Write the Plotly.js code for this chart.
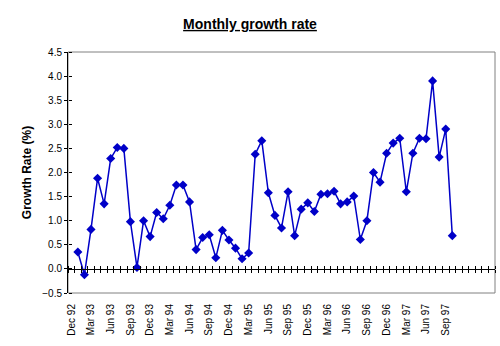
<!DOCTYPE html>
<html>
<head>
<meta charset="utf-8">
<script src="https://cdn.plot.ly/plotly-3.0.1.min.js"></script>
<style>html,body{margin:0;padding:0;background:#fff;}#chart{width:500px;height:346px;}</style>
</head>
<body>
<div id="chart"></div>
<script>
const categories = [
  "Dec 92","Jan 93","Feb 93","Mar 93","Apr 93","May 93","Jun 93","Jul 93","Aug 93","Sep 93","Oct 93","Nov 93",
  "Dec 93","Jan 94","Feb 94","Mar 94","Apr 94","May 94","Jun 94","Jul 94","Aug 94","Sep 94","Oct 94","Nov 94",
  "Dec 94","Jan 95","Feb 95","Mar 95","Apr 95","May 95","Jun 95","Jul 95","Aug 95","Sep 95","Oct 95","Nov 95",
  "Dec 95","Jan 96","Feb 96","Mar 96","Apr 96","May 96","Jun 96","Jul 96","Aug 96","Sep 96","Oct 96","Nov 96",
  "Dec 96","Jan 97","Feb 97","Mar 97","Apr 97","May 97","Jun 97","Jul 97","Aug 97","Sep 97","Oct 97","Nov 97",
  "Dec 97","Jan 98","Feb 98","Mar 98","Apr 98"
];
const growthRate = [
  null, 0.35, -0.12, 0.82, 1.88, 1.35, 2.29, 2.52, 2.50, 0.98, 0.03, 1.00,
  0.67, 1.17, 1.04, 1.32, 1.74, 1.74, 1.39, 0.40, 0.65, 0.71, 0.23, 0.80,
  0.60, 0.43, 0.21, 0.33, 2.38, 2.66, 1.58, 1.11, 0.85, 1.60, 0.69, 1.24,
  1.37, 1.19, 1.55, 1.56, 1.61, 1.35, 1.39, 1.51, 0.61, 1.00, 2.00, 1.80,
  2.40, 2.61, 2.71, 1.60, 2.40, 2.71, 2.70, 3.90, 2.32, 2.90, 0.69, null,
  null, null, null, null, null
];
const tickLabels = [
  "Dec 92","Mar 93","Jun 93","Sep 93","Dec 93","Mar 94","Jun 94","Sep 94","Dec 94","Mar 95",
  "Jun 95","Sep 95","Dec 95","Mar 96","Jun 96","Sep 96","Dec 96","Mar 97","Jun 97","Sep 97"
];

const FONT = "Arial, 'Liberation Sans', sans-serif";
const BLUE = "#0000C8";
const nCat = categories.length;
const xRange = [-0.5, nCat - 0.5];
const yRange = [-0.5, 4.5];

const trace = {
  x: categories,
  y: growthRate,
  type: "scatter",
  mode: "lines+markers",
  connectgaps: false,
  line: {color: BLUE, width: 1.5},
  marker: {symbol: "diamond", size: 7, color: BLUE},
  hoverinfo: "x+y"
};
// empty helper traces so the overlay axes (crossing tick marks) get drawn
const helper = (xa, ya) => ({x: [null], y: [null], xaxis: xa, yaxis: ya, type: "scatter",
  mode: "markers", hoverinfo: "skip", showlegend: false});

const zeroAxisBase = {
  type: "linear",
  overlaying: "x",
  anchor: "free",
  position: 0.1,
  range: xRange,
  autorange: false,
  tickmode: "linear",
  tick0: -0.5,
  dtick: 1,
  ticks: "outside",
  ticklen: 3,
  tickwidth: 1,
  tickcolor: "#000",
  showline: true,
  linecolor: "#000",
  linewidth: 1,
  showgrid: false,
  zeroline: false,
  showticklabels: false,
  fixedrange: true
};

const layout = {
  width: 500,
  height: 346,
  margin: {l: 68, r: 5, t: 52, b: 53},
  paper_bgcolor: "#fff",
  plot_bgcolor: "#fff",
  showlegend: false,
  font: {family: FONT, size: 10, color: "#000"},
  title: {
    text: "<b><u>Monthly growth rate</u></b>",
    font: {family: FONT, size: 14, color: "#000"},
    x: 0.5, xanchor: "center",
    y: 1 - 24 / 346, yref: "container", yanchor: "middle"
  },
  xaxis: {
    type: "category",
    categoryorder: "array",
    categoryarray: categories,
    range: xRange,
    tickmode: "array",
    tickvals: tickLabels,
    ticktext: tickLabels,
    tickangle: -90,
    ticks: "outside",
    ticklen: 6,
    tickcolor: "rgba(0,0,0,0)",
    tickfont: {family: FONT, size: 10, color: "#000"},
    showline: false,
    showgrid: false,
    zeroline: false,
    fixedrange: true
  },
  xaxis2: Object.assign({}, zeroAxisBase, {side: "bottom"}),
  xaxis3: Object.assign({}, zeroAxisBase, {side: "top"}),
  yaxis: {
    range: yRange,
    dtick: 0.5,
    tick0: 0,
    tickformat: ".1f",
    ticks: "outside",
    ticklen: 3,
    tickcolor: "#000",
    showline: true,
    linecolor: "#000",
    linewidth: 1,
    showgrid: false,
    zeroline: false,
    tickfont: {family: FONT, size: 10, color: "#000"},
    title: {text: "<b>Growth Rate (%)</b>", font: {family: FONT, size: 12, color: "#000"}, standoff: 8},
    fixedrange: true
  },
  yaxis2: {
    overlaying: "y",
    anchor: "free",
    position: 0,
    side: "right",
    range: yRange,
    autorange: false,
    tickmode: "linear",
    dtick: 0.5,
    tick0: 0,
    ticks: "outside",
    ticklen: 3,
    tickcolor: "#000",
    showline: false,
    showgrid: false,
    zeroline: false,
    showticklabels: false,
    fixedrange: true
  },
  shapes: [{
    type: "rect", xref: "paper", yref: "paper", x0: 0, x1: 1, y0: 0, y1: 1,
    line: {color: "#808080", width: 1}, layer: "below"
  }]
};

Plotly.newPlot("chart", [helper("x2", "y"), helper("x3", "y"), helper("x", "y2"), trace], layout,
  {displayModeBar: false, staticPlot: true});
</script>
</body>
</html>
